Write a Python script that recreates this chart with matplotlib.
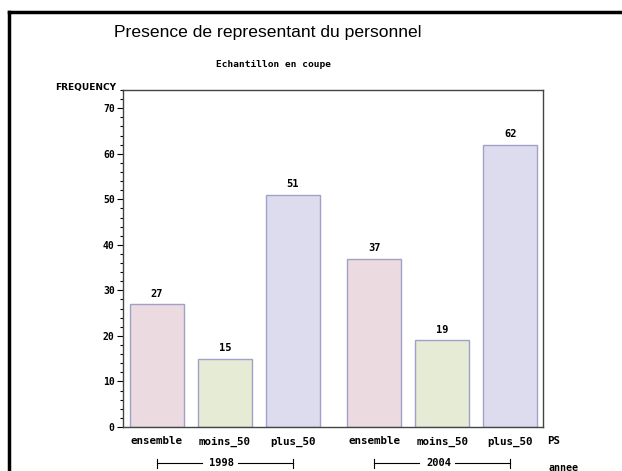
import numpy as np
import matplotlib.pyplot as plt
from matplotlib.ticker import MultipleLocator

# data
annees = ['1998', '2004']
ps = ['ensemble', 'moins_50', 'plus_50']
freq_1998 = [27, 15, 51]
freq_2004 = [37, 19, 62]
couleurs = ['#ebdbe0', '#e5ebd5', '#dcdcee']

fig = plt.figure(figsize=(6.22, 4.71), dpi=100)
ax = fig.add_axes([0.1977, 0.0934, 0.675, 0.7155])

# border of the graph area (only top and left show)
fig.add_artist(plt.Line2D([0.015, 1.0], [0.975, 0.975], color='black', lw=2.5,
                          transform=fig.transFigure))
fig.add_artist(plt.Line2D([0.015, 0.015], [0.0, 0.975], color='black', lw=2.5,
                          transform=fig.transFigure))

mono = 'DejaVu Sans Mono'
step = 68
gap = 13.5
width = 54
valeurs = [freq_1998, freq_2004]
for g, vals in enumerate(valeurs):
    x = 34 + g * (3 * step + gap) + np.arange(3) * step
    ax.bar(x, vals, width=width, color=couleurs, edgecolor='#a0a0c8', linewidth=1)
    for xi, v in zip(x, vals):
        ax.text(xi, v + 1.2, str(v), ha='center', va='bottom', fontsize=7.5,
                fontweight='bold', family=mono)
    for xi, lab in zip(x, ps):
        ax.text(xi, -3.8, lab, ha='center', va='baseline', fontsize=7.8,
                fontweight='bold', family=mono)
    # group bracket
    y0 = -8.0
    ax.plot([x[0], x[0] + 45], [y0, y0], color='black', lw=0.8, clip_on=False)
    ax.plot([x[-1] - 55, x[-1]], [y0, y0], color='black', lw=0.8, clip_on=False)
    ax.plot([x[0], x[0]], [y0 - 0.9, y0 + 0.9], color='black', lw=0.8, clip_on=False)
    ax.plot([x[-1], x[-1]], [y0 - 0.9, y0 + 0.9], color='black', lw=0.8, clip_on=False)
    ax.text((x[0] + x[-1]) / 2 - 3, y0, annees[g], ha='center', va='center', fontsize=7.5,
            fontweight='bold', family=mono)

ax.text(424, -3.8, 'PS', ha='left', va='baseline', fontsize=7.8, fontweight='bold', family=mono)
ax.text(426, -8.9, 'annee', ha='left', va='center', fontsize=7.2, fontweight='bold', family=mono)

ax.set_xlim(0, 420)
ax.set_ylim(0, 74)
ax.set_xticks([])
ax.yaxis.set_major_locator(MultipleLocator(10))
ax.yaxis.set_minor_locator(MultipleLocator(2))
ax.tick_params(axis='y', which='major', length=4, width=0.8, labelsize=7, pad=2)
ax.tick_params(axis='y', which='minor', length=2.5, width=0.8)
for lab in ax.get_yticklabels():
    lab.set_fontweight('bold')
    lab.set_family(mono)
for s in ax.spines.values():
    s.set_color('#444444')
    s.set_linewidth(1)

fig.text(0.431, 0.93, 'Presence de representant du personnel', ha='center', va='center',
         fontsize=12.6, family='Liberation Sans')
fig.text(0.44, 0.864, 'Echantillon en coupe', ha='center', va='center', fontsize=6.8,
         fontweight='bold', family=mono)
fig.text(0.089, 0.815, 'FREQUENCY', ha='left', va='center', fontsize=6.5,
         fontweight='bold', family='DejaVu Sans')

fig.savefig('out.png', dpi=100)
